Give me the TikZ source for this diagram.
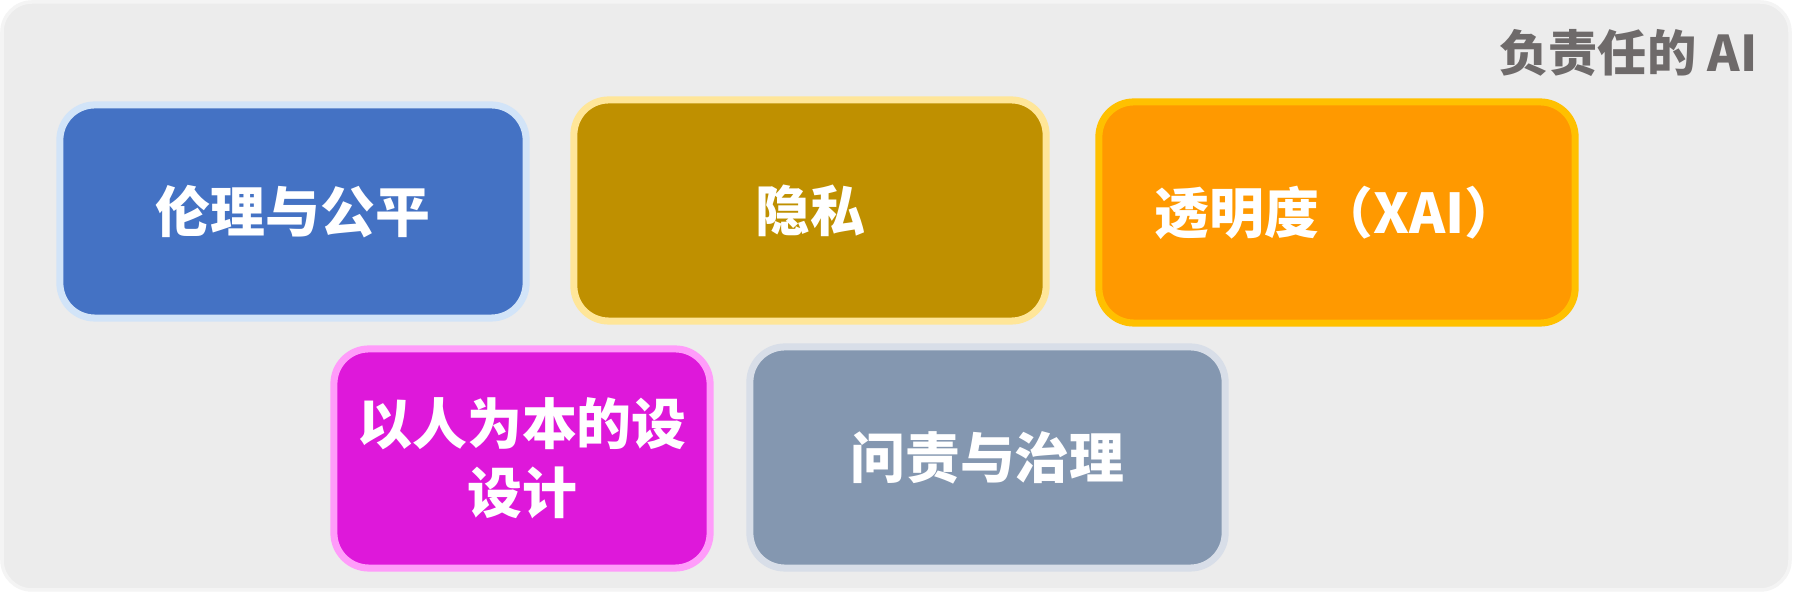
\documentclass[tikz,border=0pt]{standalone}
\usepackage{fontspec}
\setmainfont{Noto Sans CJK SC}
\usepackage{tikz}
\definecolor{bgfill}{HTML}{ECECEC}
\definecolor{bgline}{HTML}{F4F4F4}
\definecolor{titlegray}{HTML}{6E6A6A}
\definecolor{ethicfill}{HTML}{4472C4}
\definecolor{ethicline}{HTML}{D2E4F8}
\definecolor{privfill}{HTML}{BF9000}
\definecolor{privline}{HTML}{FFE699}
\definecolor{transfill}{HTML}{FF9900}
\definecolor{transline}{HTML}{FFC000}
\definecolor{humanfill}{HTML}{DE18DA}
\definecolor{humanline}{HTML}{FF9CFA}
\definecolor{govfill}{HTML}{8497B0}
\definecolor{govline}{HTML}{D8DEE8}

\begin{document}
\begin{tikzpicture}[x=0.01cm,y=-0.01cm,
		pillar/.style={rounded corners=0.35cm,line width=2pt,text=white,align=center,
			font=\fontsize{15.6}{19.5}\selectfont\bfseries},
		heading/.style={text=titlegray,anchor=east,inner sep=0pt,font=\fontsize{14}{16}\selectfont\bfseries}]
			\useasboundingbox(0,0)rectangle(1793,592);
			\fill[white](0,0)rectangle(1793,592);
			\draw[bgline,fill=bgfill,line width=1pt,rounded corners=0.3cm](2,2)rectangle(1790,590);
			\node[heading](title)at(1758,53){负责任的 AI};
			% first row
			\node[pillar,fill=ethicfill,draw=ethicline,minimum width=4.66cm,minimum height=2.13cm](ethics)at(293,211.5){伦理与公平};
			\node[pillar,fill=privfill,draw=privline,minimum width=4.72cm,minimum height=2.21cm](privacy)at(810,210.5){隐私};
			\node[pillar,fill=transfill,draw=transline,minimum width=4.76cm,minimum height=2.21cm](xai)at(1337,212.5){透明度（XAI）};
			% second row
			\node[pillar,fill=humanfill,draw=humanline,minimum width=3.76cm,minimum height=2.19cm](human)at(522,458.5){以人为本的设\\设计};
			\node[pillar,fill=govfill,draw=govline,minimum width=4.75cm,minimum height=2.21cm](govern)at(987.5,457.5){问责与治理};
		\end{tikzpicture}
\end{document}
